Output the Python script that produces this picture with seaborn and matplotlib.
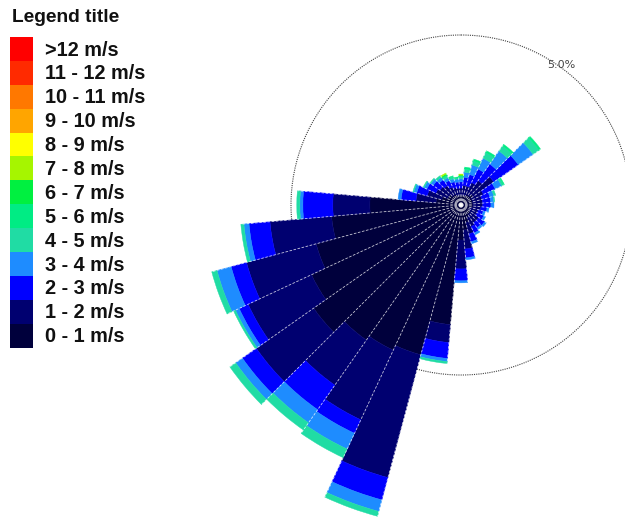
import numpy as np
import matplotlib
matplotlib.use('Agg')
import matplotlib.pyplot as plt
from matplotlib.patches import Patch
import seaborn as sns

# Direcoes (graus, a partir do Norte)
directions = list(range(0, 360, 10))

# Frequencia (%) por classe de velocidade, uma entrada por direcao
spd_0_1 = [0.29, 0.29, 0.29, 0.35, 0.35, 0.44, 0.35, 0.35, 0.35, 0.35, 0.35, 0.29,
           0.29, 0.35, 0.35, 0.41, 0.53, 0.74, 1.03, 3.53, 4.56, 4.71, 4.85, 5.29,
           4.85, 4.41, 3.82, 2.68, 0.74, 0.59, 0.44, 0.44, 0.35, 0.35, 0.29, 0.29]
spd_1_2 = [0.21, 0.29, 0.29, 0.38, 0.53, 0.74, 0.38, 0.29, 0.29, 0.29, 0.24, 0.24,
           0.24, 0.29, 0.29, 0.29, 0.35, 0.56, 0.85, 0.53, 3.74, 2.26, 1.62, 2.06,
           2.06, 2.12, 1.82, 1.09, 0.59, 0.44, 0.38, 0.32, 0.35, 0.24, 0.24, 0.21]
spd_2_3 = [0.18, 0.24, 0.35, 0.44, 0.59, 0.88, 0.38, 0.24, 0.24, 0.24, 0.18, 0.15,
           0.21, 0.21, 0.18, 0.21, 0.24, 0.26, 0.35, 0.47, 0.68, 0.44, 0.88, 0.50,
           0.29, 0.47, 0.62, 0.88, 0.44, 0.32, 0.29, 0.24, 0.21, 0.21, 0.18, 0.18]
spd_3_4 = [0.09, 0.15, 0.29, 0.35, 0.47, 0.53, 0.21, 0.12, 0.09, 0.09, 0.06, 0.06,
           0.06, 0.06, 0.06, 0.06, 0.06, 0.06, 0.06, 0.09, 0.35, 0.51, 0.47, 0.24,
           0.12, 0.43, 0.15, 0.09, 0.09, 0.09, 0.09, 0.09, 0.09, 0.09, 0.09, 0.09]
spd_4_5 = [0.06, 0.09, 0.12, 0.18, 0.18, 0.21, 0.06, 0.06, 0.03, 0.00, 0.00, 0.00,
           0.00, 0.00, 0.00, 0.00, 0.00, 0.00, 0.00, 0.06, 0.15, 0.28, 0.26, 0.21,
           0.06, 0.16, 0.09, 0.09, 0.00, 0.03, 0.03, 0.03, 0.06, 0.06, 0.06, 0.03]
spd_5_6 = [0.03, 0.06, 0.06, 0.06, 0.06, 0.06, 0.03, 0.00, 0.00, 0.00, 0.00, 0.00,
           0.00, 0.00, 0.00, 0.00, 0.00, 0.00, 0.00, 0.00, 0.00, 0.00, 0.00, 0.00,
           0.00, 0.00, 0.00, 0.00, 0.00, 0.00, 0.00, 0.00, 0.00, 0.03, 0.03, 0.03]
spd_6_7 = [0.02, 0.00, 0.00, 0.00, 0.00, 0.00, 0.00, 0.00, 0.00, 0.00, 0.00, 0.00,
           0.00, 0.00, 0.00, 0.00, 0.00, 0.00, 0.00, 0.00, 0.00, 0.00, 0.00, 0.00,
           0.00, 0.00, 0.00, 0.00, 0.00, 0.00, 0.00, 0.00, 0.00, 0.03, 0.00, 0.00]
spd_7_8 = [0.03, 0.00, 0.00, 0.00, 0.00, 0.00, 0.00, 0.00, 0.00, 0.00, 0.00, 0.00,
           0.00, 0.00, 0.00, 0.00, 0.00, 0.00, 0.00, 0.00, 0.00, 0.00, 0.00, 0.00,
           0.00, 0.00, 0.00, 0.00, 0.00, 0.00, 0.00, 0.00, 0.00, 0.03, 0.00, 0.00]

series = [spd_0_1, spd_1_2, spd_2_3, spd_3_4, spd_4_5, spd_5_6, spd_6_7, spd_7_8]

speed_labels = ['0 - 1 m/s', '1 - 2 m/s', '2 - 3 m/s', '3 - 4 m/s', '4 - 5 m/s',
                '5 - 6 m/s', '6 - 7 m/s', '7 - 8 m/s', '8 - 9 m/s', '9 - 10 m/s',
                '10 - 11 m/s', '11 - 12 m/s', '>12 m/s']
speed_colors = ['#00003C', '#000070', '#0000FF', '#1E8CFF', '#20DCA4', '#00EC84',
                '#00F040', '#A6F500', '#FFFF00', '#FFA500', '#FF7800', '#FF2A00',
                '#FF0000']

ring_value = 5.0
r_max = 9.6

sns.set_theme(style='white')
plt.rcParams['font.family'] = ['Liberation Sans', 'DejaVu Sans']

fig = plt.figure(figsize=(6.25, 5.21), dpi=100)

# eixo polar: centro em (461, 205) px, 5% = 170 px
rad_px = r_max * 34.0
ax = fig.add_axes([(461 - rad_px) / 625, (316 - rad_px) / 521,
                   2 * rad_px / 625, 2 * rad_px / 521], projection='polar')
ax.set_facecolor('none')
ax.set_theta_zero_location('N')
ax.set_theta_direction(-1)

theta = np.radians(directions)
width = np.radians(10)
cum = np.zeros(len(directions))
for vals, col in zip(series, speed_colors):
    vals = np.array(vals)
    keep = vals > 0
    ax.bar(theta[keep], vals[keep], width=width, bottom=cum[keep], color=col,
           edgecolor=col, linewidth=0.3, align='center', zorder=2)
    cum += vals

# separadores brancos entre setores
edges = theta - width / 2
tops = np.maximum(cum, np.roll(cum, 1))
ax.vlines(edges, 0, tops, colors='white', linewidth=0.6,
          linestyles=(0, (3, 2)), alpha=0.75, zorder=3)

ax.set_ylim(0, r_max)
ax.set_yticks([ring_value])
ax.set_yticklabels([])
ax.set_xticks([])
ax.yaxis.grid(True, linestyle=(0, (1, 1)), color='#444444', linewidth=0.8)
ax.xaxis.grid(False)
ax.spines['polar'].set_visible(False)
ax.text(np.radians(35.5), 5.06, f'{ring_value:.1f}%', ha='center', va='center',
        fontsize=8, color='#444444', family=['DejaVu Sans'], zorder=4)

# legenda
fig.text(12 / 625, 1 - 9 / 521, 'Legend title', ha='left', va='top',
         fontsize=13.8, fontweight='bold', color='#111111')
handles = [Patch(facecolor=c, edgecolor='none') for c in speed_colors][::-1]
leg = fig.legend(handles, speed_labels[::-1], loc='upper left',
                 bbox_to_anchor=(10 / 625, 1 - 37 / 521), borderaxespad=0,
                 frameon=False, prop={'weight': 'bold', 'size': 14.3},
                 handlelength=1.16, handleheight=1.474, labelspacing=0,
                 handletextpad=0.6, borderpad=0)
for t in leg.get_texts():
    t.set_color('#111111')

fig.savefig('out.png', dpi=100)
